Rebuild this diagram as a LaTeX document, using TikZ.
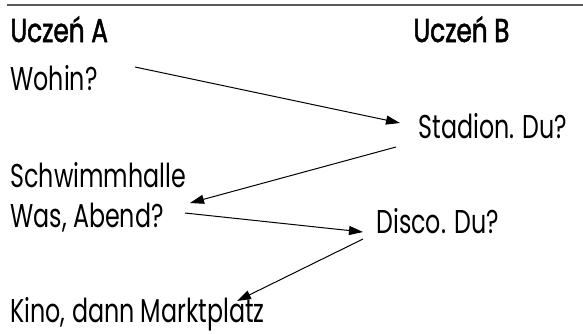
\documentclass[tikz,border=0pt]{standalone}
\usepackage{fontspec}
\setmainfont[FakeStretch=0.72]{Poppins}
\newfontfamily\headfont[FakeStretch=0.75, FakeBold=1.6]{Poppins}
\usetikzlibrary{arrows.meta}
\usetikzlibrary{calc}
\usetikzlibrary{positioning}

\begin{document}
\begin{tikzpicture}[
            x = 1pt, y = -1pt, % one unit per pixel, y runs down
            > = {Triangle[length=14pt, width=9pt]}, % arrow head style
            line width = 1pt % line style
            ]

        \tikzstyle{every node}=[
            inner sep = 0pt,
            anchor = base west,
            font = \fontsize{33}{33}\selectfont
        ]
        \tikzstyle{head}=[font = \fontsize{33}{33}\selectfont\headfont]

        \useasboundingbox (0,0) rectangle (583,333);
        \draw[line width = 1.5pt, black!65] (7,5) -- (583,5);

	% pupils
	\node[head] (UA) at (10,42) {Uczeń A};
	\node[head] (UB) at (413,42) {Uczeń B};

	% lines of pupil A
	\node (Wohin) at (10,90) {Wohin?};
	\node (Schwimm) at (10,187) {Schwimmhalle};
	\node (Abend) at (10,227) {Was, Abend?};
	\node (Kino) at (10,322) {Kino, dann Marktplatz};

	% lines of pupil B
	\node (Stadion) at (418,138) {Stadion. Du?};
	\node (Disco) at (376,233) {Disco. Du?};

	% turns
	\draw[->] ($(Wohin.base west)+(125,-23)$) -- ($(Stadion.base west)+(-18,-15)$);
	\draw[->] ($(Stadion.base west)+(-22,9)$) -- ($(Abend.base west)+(180,-24)$);
	\draw[->] ($(Abend.base west)+(175,-14)$) -- ($(Disco.base west)+(-13,-1)$);
	\draw[->] ($(Disco.base west)+(-13,6)$) -- ($(Kino.base west)+(227,-21)$);

\end{tikzpicture}
\end{document}
